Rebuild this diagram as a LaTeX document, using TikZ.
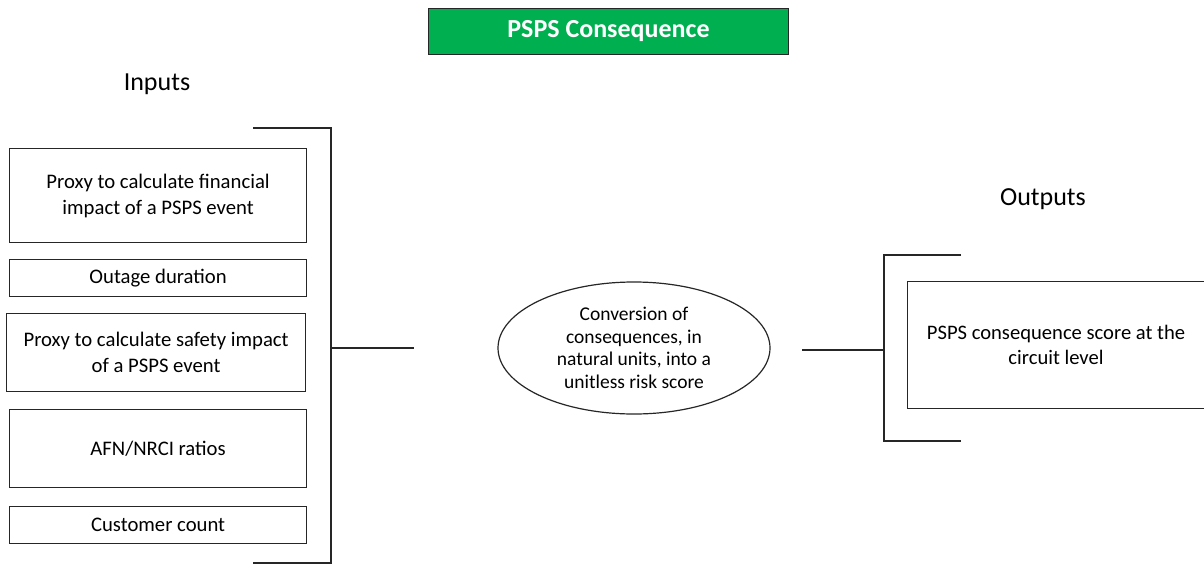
\documentclass[tikz,border=0pt]{standalone}
\usepackage{fontspec}
\setmainfont{Carlito}
\usetikzlibrary{shapes.geometric}
\definecolor{pgreen}{HTML}{00B050}
\definecolor{linec}{HTML}{262626}
\begin{document}
\begin{tikzpicture}[x=1pt,y=-1pt,
  inbox/.style={draw=linec,line width=1.2pt,minimum width=297pt,anchor=north west,inner sep=0pt,align=center,font=\fontsize{20.7}{26}\selectfont},
  lbl/.style={font=\fontsize{26}{28}\selectfont},
  br/.style={draw=linec,line width=1.2pt}]
\useasboundingbox (0,0) rectangle (1204,565);
\node[fill=pgreen,draw=linec,line width=1pt,minimum width=360pt,minimum height=46pt,anchor=north west,font=\fontsize{26}{28}\selectfont\bfseries,text=white] (title) at (428,8) {PSPS Consequence};
\node[lbl] (inl) at (157,84) {Inputs};
\node[lbl] (outl) at (1043,199) {Outputs};

\node[inbox,minimum height=94pt] (b1) at (9,148) {Proxy to calculate financial\\impact of a PSPS event};
\node[inbox,minimum height=37pt] (b2) at (9,259) {Outage duration};
\node[inbox,minimum height=78pt,minimum width=299pt] (b3) at (6,313) {Proxy to calculate safety impact\\of a PSPS event};
\node[inbox,minimum height=78pt] (b4) at (9,409) {AFN/NRCI ratios};
\node[inbox,minimum height=37pt] (b5) at (9,506) {Customer count};

\coordinate (lt) at (253,128);
\coordinate (lb) at (253,563);
\coordinate (lm) at (331,348);
\coordinate (le) at (414,348);
\draw[br] (lt) -| (331,563) -- (lb);
\draw[br] (lm) -- (le);

\node[ellipse,draw=linec,line width=1.2pt,minimum width=272pt,minimum height=132pt,inner sep=0pt,align=center,font=\fontsize{19.5}{22.5}\selectfont] (conv) at (634,348) {Conversion of\\consequences, in\\natural units, into a\\unitless risk score};

\coordinate (rs) at (802,350);
\coordinate (rm) at (884,350);
\coordinate (rt) at (961,255);
\coordinate (rb) at (961,441);
\draw[br] (rs) -- (rm);
\draw[br] (rt) -| (884,441) -- (rb);

\node[draw=linec,line width=1.2pt,minimum width=300pt,minimum height=127pt,anchor=north west,inner sep=0pt] (out) at (907,281) {};
\node[align=center,font=\fontsize{20.6}{25}\selectfont] (outt) at (1056,345) {PSPS consequence score at the\\circuit level};
\end{tikzpicture}
\end{document}
